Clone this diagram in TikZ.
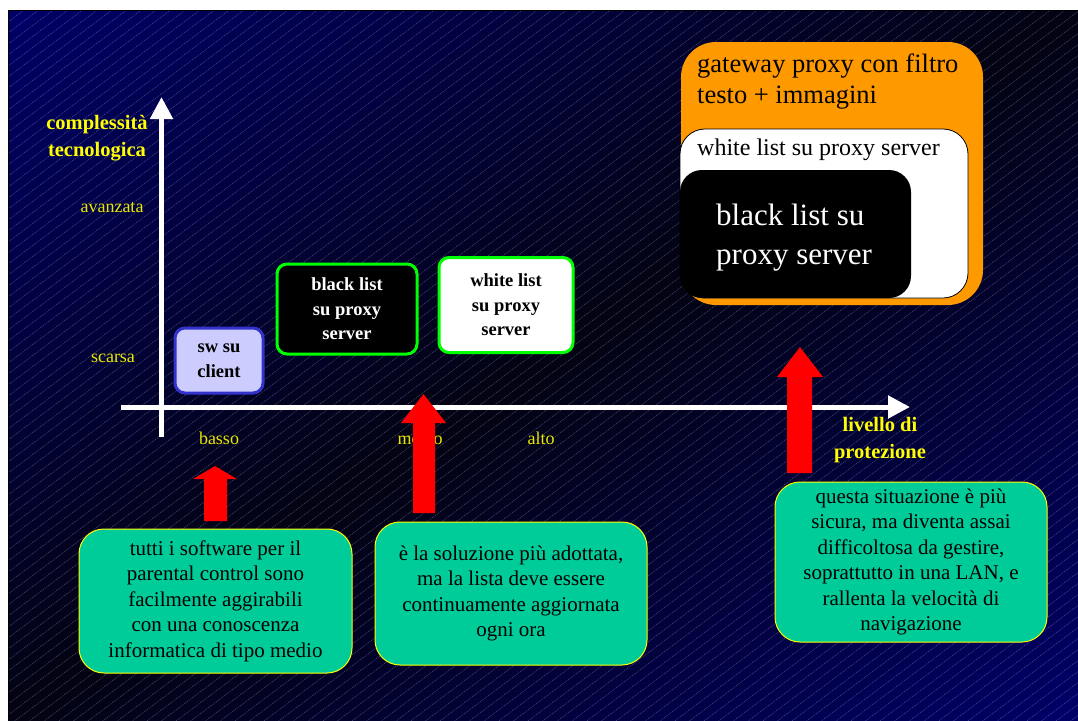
\documentclass[tikz,border=0pt]{standalone}
\usepackage{fontspec}
\setmainfont{Liberation Serif}
\usetikzlibrary{arrows.meta}
\definecolor{navybg}{RGB}{0,0,104}
\definecolor{darkbg}{RGB}{3,3,18}
\definecolor{tyellow}{RGB}{255,255,0}
\definecolor{tickyellow}{RGB}{232,232,0}
\definecolor{lav}{RGB}{204,204,255}
\definecolor{lavborder}{RGB}{51,51,204}
\definecolor{brightgreen}{RGB}{0,255,0}
\definecolor{orangebox}{RGB}{255,153,0}
\definecolor{teal}{RGB}{0,204,153}
\definecolor{hatch}{RGB}{170,170,215}
\tikzset{
  axislab/.style={text=tyellow, font=\bfseries\fontsize{20.5}{27}\selectfont, align=center, inner sep=0pt},
  ticklab/.style={text=tickyellow, font=\fontsize{18}{21}\selectfont, inner sep=0pt},
  axisline/.style={white, line width=5pt, -{Triangle[width=22pt,length=22pt]}},
  smallbox/.style={rounded corners=10pt, line width=3pt, align=center, font=\bfseries\fontsize{18.5}{24.5}\selectfont, inner sep=0pt},
  notebox/.style={fill=teal, draw=tyellow, line width=1pt, rounded corners=25pt, align=center, font=\fontsize{21}{25.5}\selectfont, inner sep=0pt},
  redarrow/.style={fill=red, draw=none},
}
\begin{document}
\begin{tikzpicture}[x=1pt,y=-1pt]
\useasboundingbox (0,0) rectangle (1078,720);
% background: diagonal gradient navy -> black -> navy
\begin{scope}
\clip (8,10) rectangle (1078,720);
\foreach \i in {0,...,49} {
  \pgfmathsetmacro\sa{\i*0.04}
  \pgfmathsetmacro\sb{\sa+0.043}
  \pgfmathsetmacro\p{abs(\sa+0.02-1)*100}
  \fill[navybg!\p!darkbg] (8+\sa*1070+1070,10-710) -- (8+\sa*1070-3*1070,10+3*710) -- (8+\sb*1070-3*1070,10+3*710) -- (8+\sb*1070+1070,10-710) -- cycle;
}
\foreach \c in {0,11,...,1540} {
  \draw[hatch, opacity=0.5, line width=0.5pt, dash pattern=on 1pt off 1pt] (8,\c) -- (1078,\c-802.5);
}
\end{scope}
\draw[black, line width=1pt] (8,720) -- (8,10) -- (1078,10);

% axes
\coordinate (yb) at (161.5,437);
\coordinate (yt) at (161.5,97);
\coordinate (xl) at (121,407);
\coordinate (xr) at (910,407);
\draw[axisline] (yb) -- (yt);
\draw[axisline] (xl) -- (xr);

% axis labels
\node[axislab] (ylab) at (97,138.5) {complessità\\tecnologica};
\node[axislab] (xlab) at (880,440.5) {livello di\\protezione};
\node[ticklab] (avz) at (112,208) {avanzata};
\node[ticklab] (scs) at (113,358) {scarsa};
\node[ticklab] (bas) at (219,438) {basso};
\node[ticklab] (med) at (420,438) {medio};
\node[ticklab] (alt) at (541,438) {alto};

% small boxes
\node[smallbox, fill=lav, draw=lavborder, minimum width=88pt, minimum height=65pt] (sw) at (219,360.5) {sw su\\client};
\node[smallbox, fill=black, draw=brightgreen, text=white, minimum width=140pt, minimum height=90pt] (bl) at (347,309) {black list\\su proxy\\server};
\node[smallbox, fill=white, draw=brightgreen, text=black, minimum width=134pt, minimum height=95pt] (wl) at (506,305) {white list\\su proxy\\server};

% nested group
\node[fill=orangebox, draw=none, rounded corners=35pt, minimum width=302pt, minimum height=263pt, inner sep=0pt] (gw) at (832,173.5) {};
\node[anchor=west, align=left, inner sep=0pt, font=\fontsize{26.5}{31}\selectfont] (gwt) at (697,81.5) {gateway proxy con filtro\\testo + immagini};
\node[fill=white, draw=black, line width=0.8pt, rounded corners=25pt, minimum width=288pt, minimum height=169pt, inner sep=0pt] (wb) at (824,213.5) {};
\node[anchor=west, inner sep=0pt, font=\fontsize{24}{28}\selectfont] (wbt) at (697,150) {white list su proxy server};
\node[fill=black, draw=none, rounded corners=22pt, minimum width=231pt, minimum height=128pt, inner sep=0pt] (bb) at (795.5,234) {};
\node[anchor=west, align=left, text=white, inner sep=0pt, font=\fontsize{31}{39}\selectfont] (bbt) at (716,237.5) {black list su\\proxy server};

% note boxes
\node[notebox, minimum width=273pt, minimum height=144pt] (n1) at (215.5,601) {tutti i software per il\\parental control sono\\facilmente aggirabili\\con una conoscenza\\informatica di tipo medio};
\node[notebox, minimum width=272pt, minimum height=143pt] (n2) at (511,593.5) {è la soluzione più adottata,\\ma la lista deve essere\\continuamente aggiornata\\ogni ora};
\node[notebox, minimum width=272pt, minimum height=160pt] (n3) at (911,562) {questa situazione è più\\sicura, ma diventa assai\\difficoltosa da gestire,\\soprattutto in una LAN, e\\rallenta la velocità di\\navigazione};

% red block arrows
\fill[redarrow] (204,521) -- (204,479) -- (193,479) -- (215,466) -- (237,479) -- (227,479) -- (227,521) -- cycle;
\fill[redarrow] (413,513) -- (413,423) -- (401,423) -- (423.5,394) -- (446,423) -- (435,423) -- (435,513) -- cycle;
\fill[redarrow] (787,473) -- (787,377) -- (777,377) -- (800,347) -- (823,377) -- (812,377) -- (812,473) -- cycle;
\end{tikzpicture}
\end{document}
